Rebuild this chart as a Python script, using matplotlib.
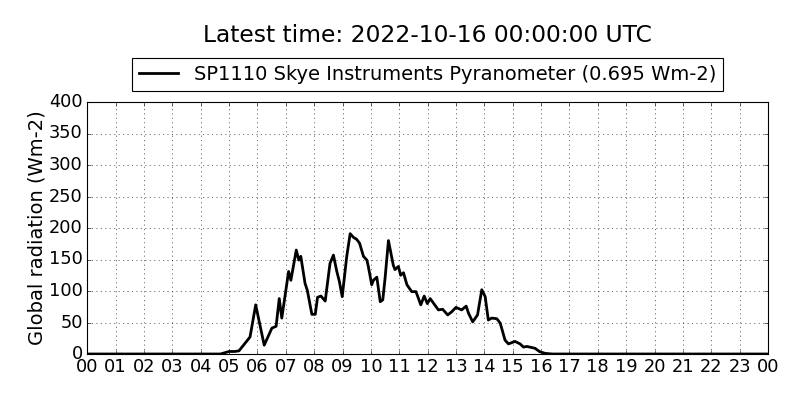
import matplotlib
matplotlib.use("Agg")
import matplotlib.pyplot as plt

plt.style.use("classic")

# hours since 00:00 UTC and global radiation (Wm-2)
hours = [0.0, 1.0, 2.0, 3.0, 4.0, 4.7, 4.85, 5.0, 5.2, 5.35, 5.51, 5.74, 5.94,
         6.24, 6.51, 6.66, 6.77, 6.86, 7.10, 7.18, 7.37, 7.46, 7.53, 7.68, 7.76,
         7.92, 8.04, 8.12, 8.24, 8.39, 8.56, 8.68, 8.80, 8.89, 8.99, 9.15, 9.27,
         9.39, 9.50, 9.60, 9.74, 9.86, 9.91, 10.03, 10.09, 10.21, 10.33, 10.42,
         10.50, 10.62, 10.79, 10.85, 10.97, 11.05, 11.15, 11.27, 11.44, 11.59,
         11.76, 11.88, 11.99, 12.09, 12.38, 12.53, 12.71, 12.85, 13.00, 13.20,
         13.36, 13.44, 13.59, 13.76, 13.91, 14.03, 14.14, 14.26, 14.44, 14.56,
         14.73, 14.85, 15.08, 15.26, 15.38, 15.50, 15.79, 15.94, 16.14, 16.4,
         17.0, 18.0, 20.0, 22.0, 24.0]
radiation = [0, 0, 0, 0, 0, 0, 2, 4, 4, 5, 14, 27, 78,
             14, 41, 44, 88, 57, 131, 117, 165, 149, 155, 112, 101,
             63, 63, 90, 92, 84, 144, 157, 131, 115, 91, 155, 191,
             185, 182, 176, 155, 149, 139, 110, 117, 122, 83, 86,
             120, 180, 141, 134, 139, 125, 129, 110, 99, 99,
             78, 92, 80, 88, 70, 71, 62, 67, 74, 70,
             76, 65, 51, 62, 102, 91, 54, 57, 56, 49,
             22, 16, 20, 16, 11, 12, 9, 4, 1, 0,
             0, 0, 0, 0, 0]
hour_ticks = list(range(25))
hour_labels = ["%02d" % (h % 24) for h in hour_ticks]

fig = plt.figure(figsize=(10, 5), dpi=80, facecolor="white")
ax = fig.add_axes([0.109, 0.115, 0.851, 0.63])
ax.plot(hours, radiation, color="black", lw=2.5,
        label="SP1110 Skye Instruments Pyranometer (0.695 Wm-2)")
ax.set_xlim(0, 24)
ax.set_ylim(0, 400)
ax.set_xticks(hour_ticks)
ax.set_xticklabels(hour_labels)
ax.set_yticks(range(0, 401, 50))
ax.tick_params(labelsize=16)
ax.grid(True, color="black", linestyle=":")
ax.set_ylabel("Global radiation (Wm-2)", fontsize=17.5, labelpad=2)
ax.legend(loc="lower center", bbox_to_anchor=(0.5, 1.045), fontsize=17.5,
          handlelength=2.0, borderaxespad=0, numpoints=1, borderpad=0.35)
fig.text(0.534, 0.912, "Latest time: 2022-10-16 00:00:00 UTC", fontsize=21,
         ha="center", va="center")
fig.savefig("out.png", dpi=80, facecolor="white")
